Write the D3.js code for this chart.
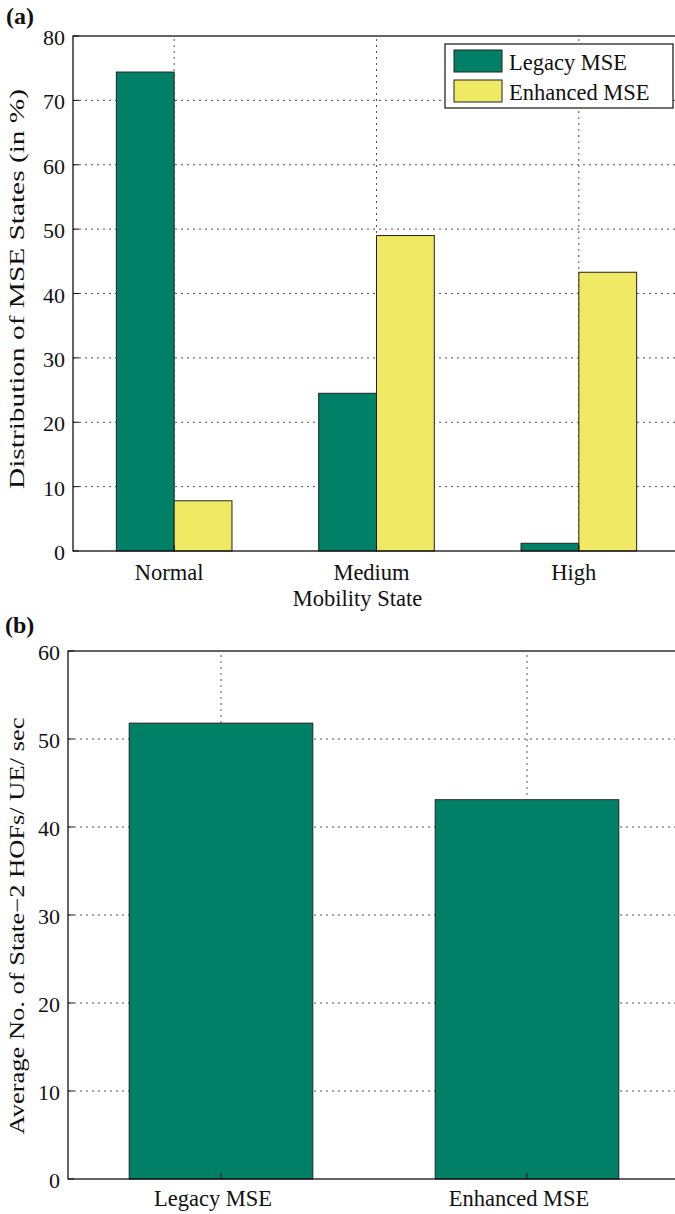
<!DOCTYPE html>
<html>
<head>
<meta charset="utf-8">
<script src="https://cdn.jsdelivr.net/npm/d3@7"></script>
<style>
  body { margin: 0; background: #fff; }
</style>
</head>
<body>
<svg id="chart" width="675" height="1214"></svg>
<script>
// panel (a) data
const statesA = ['Normal', 'Medium', 'High'];
const seriesA = ['Legacy MSE', 'Enhanced MSE'];
const legacyA = [74.4, 24.5, 1.2];
const enhancedA = [7.8, 49.0, 43.3];
const yTicksA = [0, 10, 20, 30, 40, 50, 60, 70, 80];

// panel (b) data
const schemesB = ['Legacy MSE', 'Enhanced MSE'];
const hofsB = [51.8, 43.1];
const yTicksB = [0, 10, 20, 30, 40, 50, 60];

const colors = ['#008066', '#f0e964'];
const FONT = "'Liberation Serif', 'DejaVu Serif', 'Times New Roman', serif";
const FS = 22.5;

const svg = d3.select('#chart')
    .attr('font-family', FONT)
    .style('font-family', FONT);

function label(g, x, y, str, anchor, size) {
    return g.append('text')
        .attr('x', x).attr('y', y)
        .attr('text-anchor', anchor || 'start')
        .attr('font-size', size || FS)
        .attr('fill', '#111')
        .text(str);
}

// rotated axis title, stretched along its length like the original
function yTitle(g, x, cy, str, len) {
    return g.append('text')
        .attr('transform', `translate(${x},${cy}) rotate(-90)`)
        .attr('x', -len / 2).attr('y', 0)
        .attr('font-size', 21)
        .attr('textLength', len)
        .attr('lengthAdjust', 'spacingAndGlyphs')
        .attr('fill', '#111')
        .text(str);
}

function grid(g, x, y, xTicks, yTicks, x0, x1, y0, y1) {
    g.selectAll('.gy').data(yTicks.slice(1, -1))
        .enter().append('line')
        .attr('x1', x0).attr('x2', x1)
        .attr('y1', d => y(d)).attr('y2', d => y(d))
        .attr('stroke', '#555').attr('stroke-width', 1).attr('stroke-dasharray', '2,4');
    g.selectAll('.gx').data(xTicks)
        .enter().append('line')
        .attr('x1', d => x(d)).attr('x2', d => x(d))
        .attr('y1', y0).attr('y2', y1)
        .attr('stroke', '#555').attr('stroke-width', 1).attr('stroke-dasharray', '2,4');
}

function frame(g, x0, x1, y0, y1, yTicks, y, xTicks, x) {
    g.append('rect')
        .attr('x', x0).attr('y', y1).attr('width', x1 - x0).attr('height', y0 - y1)
        .attr('fill', 'none').attr('stroke', '#111').attr('stroke-width', 1.3);
    // inward ticks
    g.selectAll('.ty').data(yTicks).enter().append('line')
        .attr('x1', x0).attr('x2', x0 + 6)
        .attr('y1', d => y(d)).attr('y2', d => y(d))
        .attr('stroke', '#111');
    g.selectAll('.tx').data(xTicks).enter().append('line')
        .attr('x1', d => x(d)).attr('x2', d => x(d))
        .attr('y1', y0).attr('y2', y0 - 6)
        .attr('stroke', '#111');
    yTicks.forEach(t => label(g, x0 - 8, y(t) + 9, t, 'end', 22));
}

// ---------- panel (a) ----------
{
    const x0 = 73, x1 = 680, yTop = 36, yBot = 551;
    const x = d3.scaleLinear().domain([0.5, 3.5]).range([x0, x1]);
    const y = d3.scaleLinear().domain([0, 80]).range([yBot, yTop]);
    const g = svg.append('g');
    const pos = [1, 2, 3];

    grid(g, x, y, pos, yTicksA, x0, x1, yBot, yTop);

    const bw = 0.2857;
    const vals = [legacyA, enhancedA];
    vals.forEach((arr, s) => {
        g.selectAll('.bar' + s).data(arr).enter().append('rect')
            .attr('x', (d, i) => x(pos[i] - bw + s * bw))
            .attr('width', x(bw) - x(0))
            .attr('y', d => y(d))
            .attr('height', d => yBot - y(d))
            .attr('fill', colors[s])
            .attr('stroke', '#222').attr('stroke-width', 1);
    });

    frame(g, x0, x1, yBot, yTop, yTicksA, y, pos, x);

    statesA.forEach((d, i) => label(g, x(pos[i]) - 5, 580, d, 'middle'));
    label(g, x(2) - 19, 606, 'Mobility State', 'middle');
    yTitle(g, 24, 289, 'Distribution of MSE States (in %)', 400);
    label(g, 6, 24, '(a)', 'start', 24).attr('font-weight', 'bold');

    // legend
    const lg = g.append('g');
    lg.append('rect').attr('x', 445).attr('y', 44).attr('width', 228).attr('height', 64)
        .attr('fill', '#fff').attr('stroke', '#111').attr('stroke-width', 1.2);
    seriesA.forEach((name, i) => {
        lg.append('rect').attr('x', 454).attr('y', 50 + i * 30).attr('width', 48).attr('height', 22)
            .attr('fill', colors[i]).attr('stroke', '#222');
        label(lg, 509, 70 + i * 30, name, 'start');
    });
}

// ---------- panel (b) ----------
{
    const x0 = 68, x1 = 680, yTop = 651, yBot = 1179;
    const x = d3.scaleLinear().domain([0.5, 2.5]).range([x0, x1]);
    const y = d3.scaleLinear().domain([0, 60]).range([yBot, yTop]);
    const g = svg.append('g');
    const pos = [1, 2];

    grid(g, x, y, pos, yTicksB, x0, x1, yBot, yTop);

    const bw = 0.6;
    g.selectAll('.barb').data(hofsB).enter().append('rect')
        .attr('x', (d, i) => x(pos[i] - bw / 2))
        .attr('width', x(bw) - x(0))
        .attr('y', d => y(d))
        .attr('height', d => yBot - y(d))
        .attr('fill', colors[0])
        .attr('stroke', '#222').attr('stroke-width', 1);

    frame(g, x0, x1, yBot, yTop, yTicksB, y, pos, x);

    schemesB.forEach((d, i) => label(g, x(pos[i]) - 8, 1206, d, 'middle'));
    yTitle(g, 24, 926, 'Average No. of State\u22122 HOFs/ UE/ sec', 417);
    label(g, 5, 633, '(b)', 'start', 24).attr('font-weight', 'bold');
}
</script>
</body>
</html>
